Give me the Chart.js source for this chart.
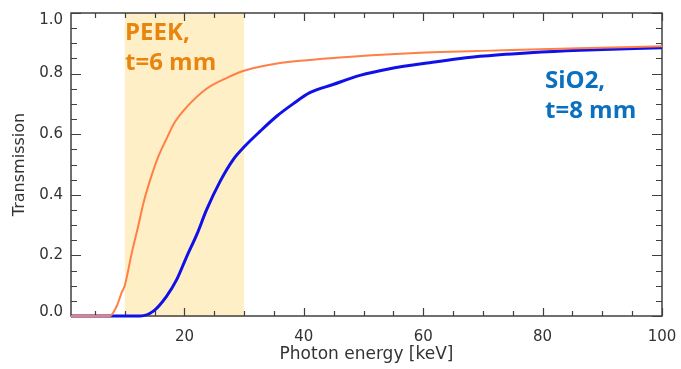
<!DOCTYPE html>
<html>
<head>
<meta charset="utf-8">
<script src="https://cdn.jsdelivr.net/npm/chart.js@4/dist/chart.umd.min.js"></script>
<style>
  html, body { margin: 0; padding: 0; background: #ffffff; }
  #wrap { width: 681px; height: 369px; position: relative; }
</style>
</head>
<body>
<div id="wrap"><canvas id="c" width="681" height="369"></canvas></div>
<script>
// ---- data ----
const peekEnergy = [1, 7.5, 8.65, 9.5, 10.0, 11.2, 12.3, 13.1, 14.2, 15.6, 17.0, 18.4, 20.4, 23.7, 27.1, 30.1, 35.5, 41, 46, 53, 63, 70, 86, 100];
const peekTrans  = [0, 0, 0.032, 0.078, 0.10, 0.21, 0.30, 0.37, 0.445, 0.525, 0.585, 0.64, 0.69, 0.75, 0.786, 0.81, 0.833, 0.845, 0.853, 0.862, 0.871, 0.875, 0.884, 0.89];

const sio2Energy = [1, 12.6, 14.8, 17.0, 18.7, 20.4, 22.1, 23.7, 26.0, 28.2, 30.1, 32.7, 35.5, 38.2, 41.0, 44.9, 49.4, 54.4, 61.1, 69.5, 77.9, 86.3, 100];
const sio2Trans  = [0, 0, 0.016, 0.065, 0.12, 0.197, 0.27, 0.35, 0.445, 0.517, 0.56, 0.61, 0.66, 0.70, 0.737, 0.764, 0.794, 0.816, 0.836, 0.857, 0.869, 0.877, 0.885];

const bandRange = [10, 30];           // shaded energy window [keV]
const xMajorTicks = [20, 40, 60, 80, 100];
const xMinorTicks = [5, 10, 15, 25, 30, 35, 45, 50, 55, 65, 70, 75, 85, 90, 95];
const yMajorTicks = [0, 0.2, 0.4, 0.6, 0.8, 1.0];
const yMinorTicks = [0.05, 0.1, 0.15, 0.25, 0.3, 0.35, 0.45, 0.5, 0.55, 0.65, 0.7, 0.75, 0.85, 0.9, 0.95];
const xRange = [1, 100];
const yRange = [0, 1];

const annotations = [
  { lines: ['PEEK,', 't=6 mm'], x: 10.05, y: 0.912, color: '#E8850F' },
  { lines: ['SiO2,', 't=8 mm'], x: 80.4, y: 0.754, color: '#0A70C0' }
];

const toPts = (xs, ys) => xs.map((x, i) => ({ x: x, y: ys[i] }));

const frameColor = '#404040';
const textColor = '#333333';

const decorPlugin = {
  id: 'decor',
  beforeDatasetsDraw(chart) {
    const { ctx, chartArea: a, scales: { x, y } } = chart;
    ctx.save();
    // shaded band
    ctx.fillStyle = '#FFEFC7';
    const x0 = x.getPixelForValue(bandRange[0]);
    const x1 = x.getPixelForValue(bandRange[1]);
    ctx.fillRect(x0, a.top, x1 - x0, a.bottom - a.top + 1);
    // frame
    ctx.strokeStyle = frameColor;
    ctx.lineWidth = 1.5;
    ctx.strokeRect(a.left, a.top, a.right - a.left, a.bottom - a.top);
    // inward ticks
    ctx.lineWidth = 1.2;
    ctx.beginPath();
    const xt = (vals, len) => vals.forEach(v => {
      const px = Math.round(x.getPixelForValue(v)) + 0.5;
      ctx.moveTo(px, a.bottom); ctx.lineTo(px, a.bottom - len);
      ctx.moveTo(px, a.top); ctx.lineTo(px, a.top + len);
    });
    const yt = (vals, len) => vals.forEach(v => {
      const py = Math.round(y.getPixelForValue(v)) + 0.5;
      ctx.moveTo(a.left, py); ctx.lineTo(a.left + len, py);
      ctx.moveTo(a.right, py); ctx.lineTo(a.right - len, py);
    });
    xt(xMajorTicks, 8); xt(xMinorTicks, 5);
    yt(yMajorTicks, 10); yt(yMinorTicks, 6);
    ctx.stroke();
    ctx.restore();
  },
  afterDraw(chart) {
    const { ctx, scales: { x, y } } = chart;
    ctx.save();
    ctx.font = 'bold 24px "Open Sans", "Noto Sans", sans-serif';
    ctx.textBaseline = 'alphabetic';
    ctx.textAlign = 'left';
    annotations.forEach(an => {
      ctx.fillStyle = an.color;
      const px = x.getPixelForValue(an.x);
      const py = y.getPixelForValue(an.y);
      an.lines.forEach((t, i) => ctx.fillText(t, px, py + i * 30));
    });
    ctx.restore();
  }
};

const yMax = yRange[1], yMin = yRange[0];

new Chart(document.getElementById('c'), {
  type: 'line',
  data: {
    datasets: [
      { label: 'SiO2, t=8 mm', data: toPts(sio2Energy, sio2Trans), borderColor: '#1010E8', borderWidth: 3, pointRadius: 0, cubicInterpolationMode: 'monotone', clip: false, order: 2 },
      { label: 'PEEK, t=6 mm', data: toPts(peekEnergy, peekTrans), borderColor: '#FF7F45', borderWidth: 2, pointRadius: 0, cubicInterpolationMode: 'monotone', clip: false, order: 1 }
    ]
  },
  options: {
    responsive: false,
    animation: false,
    devicePixelRatio: 1,
    layout: { padding: { left: 0, top: 13, right: 19, bottom: 0 } },
    plugins: { legend: { display: false }, tooltip: { enabled: false } },
    scales: {
      x: {
        type: 'linear', min: xRange[0], max: xRange[1],
        grid: { display: false, drawTicks: false },
        border: { display: false },
        afterBuildTicks: s => { s.ticks = xMajorTicks.map(v => ({ value: v })); },
        afterFit: s => { s.height = 53; s.paddingLeft = 0; s.paddingRight = 0; },
        ticks: { autoSkip: false, maxRotation: 0, padding: 12, color: textColor, font: { family: 'DejaVu Sans', size: 15 }, callback: v => String(v) },
        title: { display: true, text: 'Photon energy [keV]', color: textColor, font: { family: 'DejaVu Sans', size: 17 }, padding: { top: 0, bottom: 4 } }
      },
      y: {
        type: 'linear', min: yRange[0], max: yRange[1],
        grid: { display: false, drawTicks: false },
        border: { display: false },
        afterBuildTicks: s => { s.ticks = yMajorTicks.map(v => ({ value: v })); },
        afterFit: s => { s.width = 71; s.paddingTop = 0; s.paddingBottom = 0; },
        ticks: {
          autoSkip: false, padding: 8, color: textColor,
          // end labels sit inside the axis range, as in the reference
          font: c => {
            const v = c.tick ? c.tick.value : null;
            if (v === yMax) return { family: 'DejaVu Sans', size: 15, lineHeight: '14px' };
            if (v === yMin) return { family: 'DejaVu Sans', size: 15, lineHeight: '7px' };
            return { family: 'DejaVu Sans', size: 15 };
          },
          callback: v => {
            const s = Number(v).toFixed(1);
            if (v === yMax) return ['', s];
            if (v === yMin) return [s, ''];
            return s;
          }
        },
        title: { display: true, text: 'Transmission', color: textColor, font: { family: 'DejaVu Sans', size: 16 }, padding: { top: 10, bottom: 0 } }
      }
    }
  },
  plugins: [decorPlugin]
});
</script>
</body>
</html>
